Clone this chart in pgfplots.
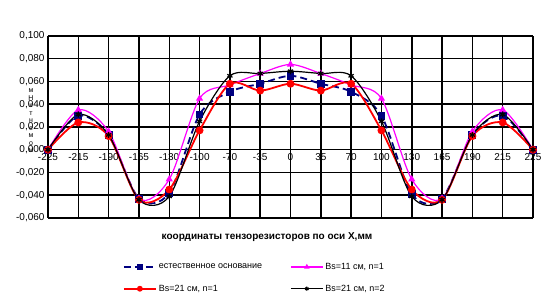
\documentclass[border=0pt]{standalone}
\usepackage{fontspec}
\setmainfont{Liberation Sans}
\usepackage{pgfplots}
\usepackage{pgfplotstable}
\pgfplotsset{compat=1.18}
\definecolor{navyb}{RGB}{0,0,128}
\definecolor{magb}{RGB}{255,0,255}
\pgfplotstableread{
i  b      m      r      k
0  0.000  0.000  0.000  0.000
1  0.030  0.035  0.024  0.031
2  0.013  0.016  0.012  0.013
3  -0.043 -0.043 -0.044 -0.044
4  -0.038 -0.026 -0.035 -0.041
5  0.031  0.045  0.017  0.025
6  0.051  0.057  0.058  0.065
7  0.058  0.067  0.052  0.067
8  0.065  0.075  0.058  0.069
9  0.058  0.067  0.052  0.067
10 0.051  0.057  0.058  0.065
11 0.030  0.045  0.017  0.025
12 -0.039 -0.026 -0.035 -0.041
13 -0.043 -0.043 -0.044 -0.044
14 0.013  0.016  0.012  0.013
15 0.030  0.035  0.024  0.031
16 0.000  0.000  0.000  0.000
}\data
\begin{document}
\begin{tikzpicture}
\path[use as bounding box] (-48pt,-87pt) rectangle (506pt,218pt);
\begin{axis}[
  at={(0pt,0pt)}, anchor=south west,
  scale only axis, width=485pt, height=182pt,
  xmin=0, xmax=16, ymin=-0.06, ymax=0.1,
  xtick={0,...,16},
  xticklabels={-225,-215,-190,-165,-130,-100,-70,-35,0,35,70,100,130,165,190,215,225},
  ytick={-0.06,-0.04,-0.02,0,0.02,0.04,0.06,0.08,0.1},
  axis x line*=middle, axis y line*=left,
  hide obscured x ticks=false,
  grid=major, major grid style={black, line width=1.5pt},
  axis line style={black, line width=1.5pt, -},
  tick style={draw=none},
  tick label style={font=\fontsize{10}{12}\selectfont},
  yticklabel style={/pgf/number format/.cd, fixed, fixed zerofill, precision=3, use comma},
  /pgf/number format/assume math mode=true,
  scaled y ticks=false,
  legend columns=2,
  legend cell align=left,
  legend image code/.code={\draw[mark repeat=2,mark phase=2] plot coordinates {(0pt,0pt) (16pt,0pt) (32pt,0pt)};},
  legend image post style={mark size=2pt},
  legend style={at={(0.148,-0.225)}, anchor=north west, draw=none, fill=none,
    font=\fontsize{9}{11}\selectfont, row sep=10pt,
    /tikz/every even column/.append style={column sep=26pt}},
]
\addplot[navyb, line width=1.8pt, dash pattern=on 7pt off 4pt, smooth, mark=square*, mark size=3pt, mark options={solid}] table[x=i,y=b]{\data};
\addlegendentry{естественное основание}
\addplot[magb, line width=1.2pt, smooth, mark=triangle*, mark size=3pt] table[x=i,y=m]{\data};
\addlegendentry{Bs=11 см, n=1}
\addplot[red, line width=1.8pt, smooth, mark=*, mark size=3pt] table[x=i,y=r]{\data};
\addlegendentry{Bs=21 см, n=1}
\addplot[black, line width=1.2pt, smooth, mark=asterisk, mark size=3pt] table[x=i,y=k]{\data};
\addlegendentry{Bs=21 см, n=2}
\end{axis}
\node[font=\fontsize{7}{7.5}\selectfont, align=center] at (-17pt,97pt) {м\\Н\\к\\т\\н\\е\\м\\о\\м};
\node[font=\bfseries\fontsize{10}{12}\selectfont] at (219pt,-19pt) {координаты тензорезисторов по оси X,мм};
\end{tikzpicture}
\end{document}
